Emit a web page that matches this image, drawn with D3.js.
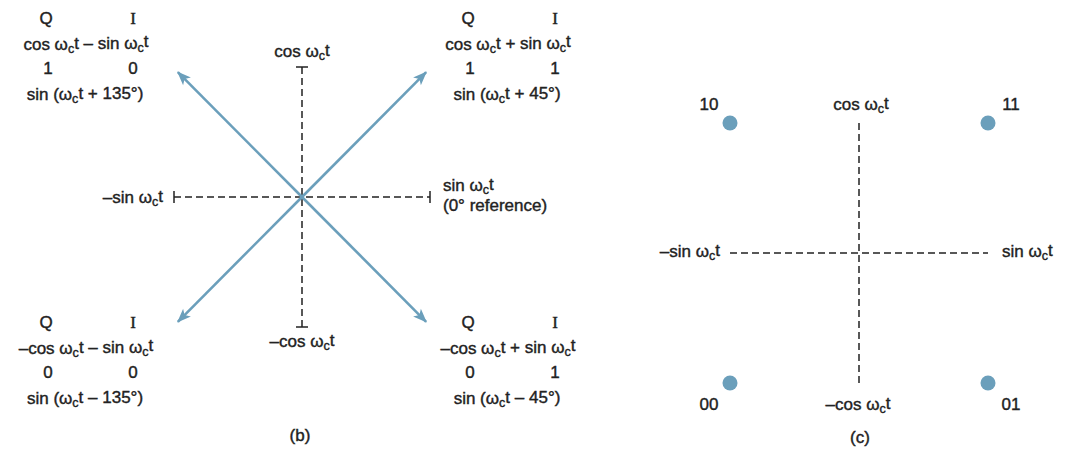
<!DOCTYPE html>
<html>
<head>
<meta charset="utf-8">
<script src="https://cdn.jsdelivr.net/npm/d3@7"></script>
<style>
  html, body { margin: 0; padding: 0; background: #fff; }
  svg text { font-family: "Liberation Sans", Arial, Helvetica, sans-serif; fill: #222; stroke: #222; stroke-width: 0.4px; }
</style>
</head>
<body>
<svg id="chart" width="1065" height="449"></svg>
<script>
// ---------- data ----------
// Panel (b): phasor tips as (I, Q) components
const phasorNames = ["10", "11", "00", "01"];
const phasorI = [-0.97, 0.97, -0.97, 0.97];
const phasorQ = [0.96, 0.96, -0.96, -0.96];

// Panel (b) corner blocks
const cornerQbits = ["1", "1", "0", "0"];
const cornerIbits = ["0", "1", "0", "1"];
const cornerFormulas = ["cos ω_ct – sin ω_ct", "cos ω_ct + sin ω_ct", "–cos ω_ct – sin ω_ct", "–cos ω_ct + sin ω_ct"];
const cornerPhases = ["sin (ω_ct + 135°)", "sin (ω_ct + 45°)", "sin (ω_ct – 135°)", "sin (ω_ct – 45°)"];

// Panel (c): constellation points
const symbols = ["10", "11", "00", "01"];
const symbolI = [-1, 1, -1, 1];
const symbolQ = [1, 1, -1, -1];

// axis labels
const axisLabels = { up: "cos ω_ct", down: "–cos ω_ct", left: "–sin ω_ct", right: "sin ω_ct" };

// ---------- drawing ----------
const svg = d3.select("#chart");
const BLUE = "#6b9fbb";
const INK = "#222";
const FS = 17;

function label(g, str, x, y, anchor) {
  const t = g.append("text")
    .attr("x", x).attr("y", y).attr("dy", "0.35em")
    .attr("text-anchor", anchor || "middle")
    .style("font-size", FS + "px");
  const parts = str.split("_c");
  parts.forEach((p, i) => {
    const ts = t.append("tspan").text(p);
    if (i > 0) ts.attr("dy", "-0.28em");
    if (i < parts.length - 1) {
      t.append("tspan").text("c").attr("dy", "0.28em").style("font-size", (FS * 0.74) + "px");
    }
  });
  return t;
}

// arrow marker
svg.append("defs").append("marker")
  .attr("id", "head")
  .attr("markerUnits", "userSpaceOnUse")
  .attr("viewBox", "-14 -7 16 14")
  .attr("refX", 0).attr("refY", 0)
  .attr("markerWidth", 16).attr("markerHeight", 14)
  .attr("orient", "auto")
  .append("path")
  .attr("d", "M1,0 L-13,-5.5 L-9.5,0 L-13,5.5 Z")
  .attr("fill", BLUE);

// ===== Panel (b) =====
const xB = d3.scaleLinear().domain([-1, 1]).range([174, 430]);
const yB = d3.scaleLinear().domain([-1, 1]).range([327, 67]);
const gB = svg.append("g");

// dashed axes
gB.append("line").attr("x1", xB(-1)).attr("x2", xB(1)).attr("y1", yB(0)).attr("y2", yB(0))
  .attr("stroke", INK).attr("stroke-width", 1.5).attr("stroke-dasharray", "7,4");
gB.append("line").attr("x1", xB(0)).attr("x2", xB(0)).attr("y1", yB(1)).attr("y2", yB(-1))
  .attr("stroke", INK).attr("stroke-width", 1.5).attr("stroke-dasharray", "7,4");
// end bars
[-1, 1].forEach(v => {
  gB.append("line").attr("x1", xB(v)).attr("x2", xB(v)).attr("y1", yB(0) - 6).attr("y2", yB(0) + 6)
    .attr("stroke", INK).attr("stroke-width", 1.5);
  gB.append("line").attr("x1", xB(0) - 6).attr("x2", xB(0) + 6).attr("y1", yB(v)).attr("y2", yB(v))
    .attr("stroke", INK).attr("stroke-width", 1.5);
});

// phasor arrows
phasorNames.forEach((n, k) => {
  gB.append("line")
    .attr("x1", xB(0)).attr("y1", yB(0))
    .attr("x2", xB(phasorI[k])).attr("y2", yB(phasorQ[k]))
    .attr("stroke", BLUE).attr("stroke-width", 2.6)
    .attr("marker-end", "url(#head)");
});

// axis labels (b)
label(gB, axisLabels.up, xB(0), 51);
label(gB, axisLabels.down, xB(0), 341);
label(gB, axisLabels.left, 163, yB(0), "end");
label(gB, axisLabels.right, 443, 185, "start");
label(gB, "(0° reference)", 443, 205, "start");
label(gB, "(b)", 300, 435);

// corner blocks
const blockX = [88, 510, 88, 510];
const blockTop = [18, 18, 322, 322];
phasorNames.forEach((n, k) => {
  const cx = blockX[k], y0 = blockTop[k];
  label(gB, "Q", cx - 42, y0);
  label(gB, "I", cx + 45, y0).style("font-family", "'Liberation Serif', serif");
  label(gB, cornerFormulas[k], cx - 2, y0 + 26);
  label(gB, cornerQbits[k], cx - 40, y0 + 50);
  label(gB, cornerIbits[k], cx + 45, y0 + 50);
  label(gB, cornerPhases[k], cx - 3, y0 + 76);
});

// ===== Panel (c) =====
const xC = d3.scaleLinear().domain([-1, 1]).range([730, 988]);
const yC = d3.scaleLinear().domain([-1, 1]).range([383, 123]);
const gC = svg.append("g");

gC.append("line").attr("x1", xC(-1)).attr("x2", xC(1)).attr("y1", yC(0)).attr("y2", yC(0))
  .attr("stroke", INK).attr("stroke-width", 1.5).attr("stroke-dasharray", "7,4");
gC.append("line").attr("x1", xC(0)).attr("x2", xC(0)).attr("y1", yC(1)).attr("y2", yC(-1))
  .attr("stroke", INK).attr("stroke-width", 1.5).attr("stroke-dasharray", "7,4");

gC.selectAll("circle.pt").data(symbols).join("circle")
  .attr("class", "pt")
  .attr("cx", (d, k) => xC(symbolI[k]))
  .attr("cy", (d, k) => yC(symbolQ[k]))
  .attr("r", 7.5)
  .attr("fill", BLUE);

symbols.forEach((s, k) => {
  const dx = symbolI[k] < 0 ? -21 : 23;
  const dy = symbolQ[k] > 0 ? -19 : 21;
  label(gC, s, xC(symbolI[k]) + dx, yC(symbolQ[k]) + dy);
});

label(gC, axisLabels.up, xC(0) + 2, 104);
label(gC, axisLabels.down, xC(0) - 1, 404);
label(gC, axisLabels.left, 720, yC(0) - 2, "end");
label(gC, axisLabels.right, 1002, yC(0) - 2, "start");
label(gC, "(c)", 860, 437);
</script>
</body>
</html>
